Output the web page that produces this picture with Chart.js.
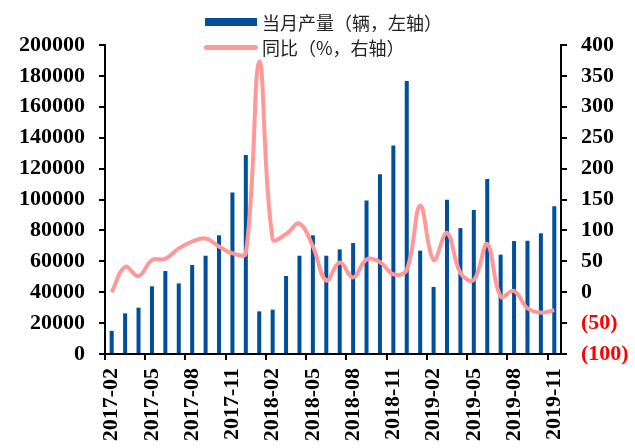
<!DOCTYPE html>
<html>
<head>
<meta charset="utf-8">
<script src="https://cdn.jsdelivr.net/npm/chart.js@4/dist/chart.umd.min.js"></script>
<style>
  html, body { margin: 0; padding: 0; background: #fff; }
  #wrap { position: relative; width: 635px; height: 448px; overflow: hidden; }
  #c { position: absolute; left: 0; top: 0; }
  .leg { position: absolute; font-family: "Noto Sans CJK SC", sans-serif; font-size: 18px; color: #222; line-height: 18px; white-space: nowrap; }
  .sw1 { position: absolute; left: 205px; top: 18px; width: 52px; height: 8px; background: #004f9a; }
  .sw2 { position: absolute; left: 204px; top: 45px; width: 54px; height: 5px; background: #ff9999; border-radius: 3px; }
</style>
</head>
<body>
<div id="wrap">
  <canvas id="c" width="635" height="448"></canvas>
  <div class="sw1"></div>
  <div class="leg" style="left:262px; top:13px;">当月产量（辆，左轴）</div>
  <div class="sw2"></div>
  <div class="leg" style="left:262px; top:38px;">同比（%，右轴）</div>
</div>
<script>
const categories = [
  "2017-02","2017-03","2017-04","2017-05","2017-06","2017-07","2017-08","2017-09","2017-10","2017-11","2017-12",
  "2018-01","2018-02","2018-03","2018-04","2018-05","2018-06","2018-07","2018-08","2018-09","2018-10","2018-11","2018-12",
  "2019-01","2019-02","2019-03","2019-04","2019-05","2019-06","2019-07","2019-08","2019-09","2019-10","2019-11"
];
const production = [
  15000, 26300, 30000, 43800, 53700, 45700, 57600, 63600, 76800, 104600, 128800,
  27600, 28700, 50500, 63600, 76800, 63600, 67700, 71800, 99400, 116300, 135000, 176700,
  66900, 43400, 99900, 81500, 93200, 113300, 64300, 73100, 73300, 78100, 95600
];
const yoy = [
  0, 41, 26, 52, 54, 71, 82, 87, 74, 63, 63,
  373, 86, 94, 111, 74, 19, 48, 24, 53, 49, 29, 36,
  140, 52, 96, 31, 20, 78, -7, 2, -26, -33, -29
];
const leftTicks = { min: 0, max: 200000, step: 20000 };
const rightTicks = { min: -100, max: 400, step: 50 };

const tickFont = { family: "'Liberation Serif', 'Times New Roman', serif", size: 22, weight: 'bold' };

new Chart(document.getElementById('c'), {
  data: {
    labels: categories,
    datasets: [
      {
        type: 'line',
        label: '同比（%，右轴）',
        data: yoy,
        yAxisID: 'y1',
        borderColor: '#ff9999',
        backgroundColor: '#ff9999',
        borderWidth: 4,
        pointRadius: 0,
        tension: 0.4,
        order: 0
      },
      {
        type: 'bar',
        label: '当月产量（辆，左轴）',
        data: production,
        yAxisID: 'y',
        backgroundColor: '#004f9a',
        barPercentage: 0.3,
        categoryPercentage: 1,
        order: 1
      }
    ]
  },
  options: {
    responsive: false,
    animation: false,
    devicePixelRatio: 1,
    layout: { padding: { top: 45, left: 0, right: 0, bottom: 0 } },
    plugins: { legend: { display: false }, tooltip: { enabled: false } },
    scales: {
      x: {
        offset: true,
        grid: {
          offset: true,
          drawOnChartArea: false,
          drawTicks: true,
          tickLength: 6,
          lineWidth: 2,
          color: ctx => (ctx.index % 3 === 0 ? '#000' : 'rgba(0,0,0,0)')
        },
        border: { display: true, color: '#000', width: 2 },
        ticks: {
          autoSkip: false,
          maxRotation: 90,
          minRotation: 90,
          padding: 8,
          color: '#000',
          font: tickFont,
          callback: function (v, i) { return i % 3 === 0 ? this.getLabelForValue(v) : ''; }
        },
        afterFit: s => { s.height = 94; }
      },
      y: {
        position: 'left',
        min: leftTicks.min,
        max: leftTicks.max,
        grid: { drawOnChartArea: false, drawTicks: true, tickLength: 6, lineWidth: 2, color: '#000' },
        border: { display: true, color: '#000', width: 2 },
        ticks: { stepSize: leftTicks.step, padding: 14, color: '#000', font: tickFont, callback: v => String(v) },
        afterFit: s => { s.width = 105; }
      },
      y1: {
        position: 'right',
        min: rightTicks.min,
        max: rightTicks.max,
        grid: { drawOnChartArea: false, drawTicks: true, tickLength: 6, lineWidth: 2, color: '#000' },
        border: { display: true, color: '#000', width: 2 },
        ticks: {
          stepSize: rightTicks.step,
          padding: 14,
          font: tickFont,
          color: ctx => (ctx.tick && ctx.tick.value < 0 ? '#ff0000' : '#000'),
          callback: v => (v < 0 ? '(' + (-v) + ')' : String(v))
        },
        afterFit: s => { s.width = 74; }
      }
    }
  }
});
</script>
</body>
</html>
